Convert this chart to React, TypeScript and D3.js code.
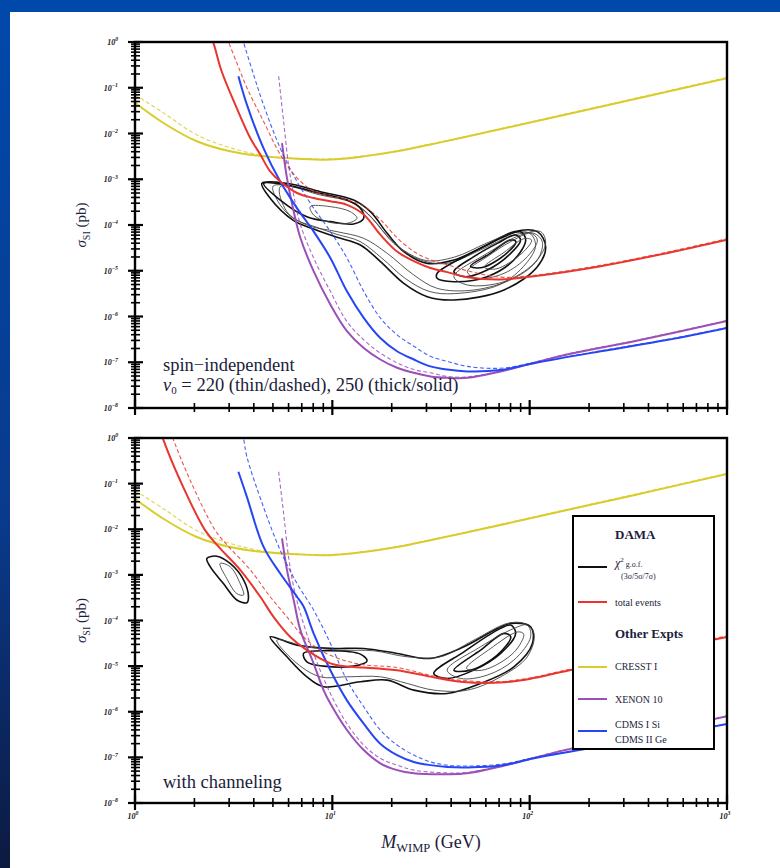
import React from "react";
import * as d3 from "d3";

// All points: [log10(M_WIMP / GeV), log10(sigma / pb)]
type P = [number, number];

const MASS_DECADES = [0, 1, 2, 3];
const SIGMA_DECADES = [0, -1, -2, -3, -4, -5, -6, -7, -8];

// ---------- CRESST I (same in both panels) ----------
const CRESST_250: P[] = [[0,-1.33],[0.144,-1.77],[0.313,-2.17],[0.482,-2.39],[0.651,-2.5],[0.821,-2.55],[0.99,-2.57],[1.159,-2.5],[1.328,-2.39],[1.497,-2.24],[1.65,-2.1],[2.19,-1.58],[2.5,-1.28],[3.0,-0.79]];
const CRESST_220: P[] = [[0,-1.15],[0.144,-1.55],[0.313,-2.03],[0.482,-2.31],[0.651,-2.48],[0.821,-2.54],[0.99,-2.555],[1.159,-2.49],[1.328,-2.38],[1.497,-2.23],[1.65,-2.09],[2.19,-1.565],[2.5,-1.265],[3.0,-0.775]];

// ---------- Top panel: spin-independent ----------
const TOT_SI_250: P[] = [[0.383,0.1],[0.397,-0.02],[0.439,-0.64],[0.508,-1.37],[0.584,-2.1],[0.635,-2.46],[0.685,-2.83],[0.736,-3.05],[0.821,-3.3],[0.905,-3.41],[0.99,-3.48],[1.074,-3.56],[1.159,-3.77],[1.243,-4.21],[1.328,-4.58],[1.413,-4.79],[1.497,-4.94],[1.582,-5.03],[1.684,-5.14],[1.853,-5.19],[2.022,-5.12],[2.36,-4.9],[2.7,-4.61],[3.0,-4.32]];
const TOT_SI_220: P[] = [[0.465,0.1],[0.474,0.0],[0.52,-0.5],[0.567,-1.0],[0.651,-1.73],[0.736,-2.46],[0.821,-2.97],[0.905,-3.26],[0.99,-3.37],[1.074,-3.45],[1.159,-3.59],[1.243,-3.88],[1.328,-4.28],[1.413,-4.58],[1.497,-4.76],[1.582,-4.87],[1.684,-5.0],[1.853,-5.14],[2.022,-5.1],[2.36,-4.88],[2.7,-4.59],[3.0,-4.3]];
const CDMS_SI_250: P[] = [[0.524,-0.75],[0.567,-1.37],[0.651,-2.32],[0.736,-3.05],[0.821,-3.63],[0.905,-4.14],[0.99,-4.72],[1.074,-5.45],[1.159,-6.03],[1.243,-6.47],[1.328,-6.76],[1.413,-6.94],[1.497,-7.09],[1.582,-7.16],[1.684,-7.2],[1.853,-7.17],[2.022,-7.02],[2.36,-6.76],[2.7,-6.51],[3.0,-6.25]];
const CDMS_SI_220: P[] = [[0.545,0.1],[0.55,0.0],[0.6,-0.7],[0.651,-1.37],[0.736,-2.32],[0.821,-3.05],[0.905,-3.63],[0.99,-4.14],[1.074,-4.72],[1.159,-5.45],[1.243,-6.03],[1.328,-6.4],[1.413,-6.65],[1.497,-6.87],[1.582,-6.98],[1.684,-7.09],[1.853,-7.13],[2.022,-7.01],[2.36,-6.75],[2.7,-6.5],[3.0,-6.24]];
const XENON_SI_250: P[] = [[0.745,-2.21],[0.77,-2.97],[0.804,-3.7],[0.838,-4.28],[0.905,-5.01],[0.99,-5.74],[1.074,-6.32],[1.159,-6.69],[1.243,-6.94],[1.328,-7.12],[1.413,-7.23],[1.497,-7.31],[1.582,-7.34],[1.684,-7.34],[1.853,-7.2],[2.19,-6.83],[2.53,-6.54],[3.0,-6.1]];
const XENON_SI_220: P[] = [[0.728,-0.75],[0.753,-1.73],[0.778,-2.68],[0.804,-3.34],[0.838,-3.99],[0.905,-4.72],[0.99,-5.45],[1.074,-6.11],[1.159,-6.51],[1.243,-6.8],[1.328,-7.01],[1.413,-7.16],[1.497,-7.23],[1.582,-7.31],[1.684,-7.32],[1.853,-7.19],[2.19,-6.82],[2.53,-6.53],[3.0,-6.09]];

// DAMA contours (top panel)
const DAMA_SI_OUTER_250: P[] = [[0.643,-3.089],[0.77,-3.089],[0.939,-3.272],[1.108,-3.454],[1.193,-3.709],[1.278,-4.182],[1.362,-4.583],[1.481,-4.838],[1.616,-4.765],[1.785,-4.437],[1.92,-4.146],[2.039,-4.146],[2.081,-4.474],[2.039,-4.911],[1.87,-5.421],[1.616,-5.639],[1.481,-5.567],[1.362,-5.275],[1.244,-4.801],[1.142,-4.437],[1.024,-4.269],[0.905,-4.087],[0.804,-3.905],[0.685,-3.417]];
const DAMA_SI_MID_250: P[] = [[0.7,-3.15],[0.8,-3.16],[0.95,-3.33],[1.1,-3.5],[1.18,-3.75],[1.27,-4.2],[1.36,-4.55],[1.48,-4.78],[1.62,-4.7],[1.78,-4.4],[1.91,-4.18],[2.0,-4.18],[2.03,-4.45],[1.98,-4.85],[1.85,-5.3],[1.62,-5.5],[1.49,-5.45],[1.37,-5.17],[1.25,-4.72],[1.14,-4.36],[1.02,-4.2],[0.9,-4.02],[0.8,-3.85],[0.72,-3.45]];
const DAMA_SI_OUTER_220: P[] = [[0.736,-3.162],[0.939,-3.344],[1.108,-3.526],[1.21,-3.891],[1.311,-4.401],[1.447,-4.765],[1.582,-4.838],[1.751,-4.546],[1.92,-4.219],[2.022,-4.182],[2.064,-4.364],[2.039,-4.765],[1.92,-5.166],[1.717,-5.421],[1.531,-5.384],[1.413,-5.093],[1.278,-4.619],[1.159,-4.291],[1.024,-4.146],[0.871,-4.0],[0.77,-3.709]];
const DAMA_SI_LOW_5: P[] = [[0.652,-3.089],[0.77,-3.126],[0.939,-3.308],[1.075,-3.454],[1.142,-3.636],[1.159,-3.854],[1.108,-3.978],[0.99,-3.927],[0.871,-3.818],[0.736,-3.454]];
const DAMA_SI_LOW_3: P[] = [[0.888,-3.599],[0.99,-3.599],[1.091,-3.709],[1.125,-3.854],[1.075,-3.963],[0.973,-3.927],[0.905,-3.781]];
const DAMA_SI_HIGH_3_250: P[] = [[1.616,-5.02],[1.717,-4.692],[1.836,-4.401],[1.929,-4.219],[1.954,-4.328],[1.904,-4.619],[1.785,-4.984],[1.667,-5.129]];
const DAMA_SI_HIGH_5_250: P[] = [[1.531,-5.057],[1.701,-4.619],[1.87,-4.255],[1.954,-4.146],[1.98,-4.328],[1.92,-4.765],[1.785,-5.129],[1.616,-5.239],[1.531,-5.166]];
const DAMA_SI_HIGH_1_250: P[] = [[1.7,-4.9],[1.8,-4.62],[1.9,-4.33],[1.93,-4.36],[1.88,-4.63],[1.76,-4.93]];
const DAMA_SI_HIGH_3_220: P[] = [[1.684,-5.02],[1.785,-4.692],[1.904,-4.364],[2.005,-4.182],[2.039,-4.328],[1.988,-4.692],[1.87,-5.057],[1.734,-5.166]];
const DAMA_SI_HIGH_5_220: P[] = [[1.616,-5.129],[1.785,-4.619],[1.954,-4.219],[2.056,-4.146],[2.081,-4.401],[2.022,-4.838],[1.87,-5.239],[1.684,-5.311]];
const DAMA_SI_HIGH_1_220: P[] = [[1.77,-4.92],[1.87,-4.6],[1.97,-4.3],[2.01,-4.33],[1.96,-4.62],[1.83,-4.96]];

// ---------- Bottom panel: with channeling ----------
const TOT_CH_250: P[] = [[0.13,0.15],[0.144,-0.04],[0.228,-0.92],[0.355,-2.02],[0.423,-2.38],[0.533,-2.89],[0.635,-3.48],[0.702,-3.92],[0.787,-4.36],[0.871,-4.65],[0.99,-4.94],[1.074,-5.01],[1.159,-5.03],[1.328,-5.09],[1.497,-5.23],[1.65,-5.34],[1.85,-5.36],[2.0,-5.28],[2.16,-5.13],[2.5,-4.8],[3.0,-4.36]];
const TOT_CH_220: P[] = [[0.18,0.15],[0.195,-0.04],[0.279,-0.92],[0.406,-2.02],[0.474,-2.38],[0.584,-2.89],[0.685,-3.48],[0.77,-3.92],[0.854,-4.36],[0.939,-4.65],[1.057,-4.87],[1.159,-4.97],[1.328,-5.03],[1.497,-5.2],[1.65,-5.31],[1.85,-5.34],[2.0,-5.26],[2.16,-5.11],[2.5,-4.78],[3.0,-4.34]];
const CDMS_CH_250: P[] = [[0.524,-0.74],[0.567,-1.29],[0.651,-2.38],[0.736,-2.97],[0.821,-3.48],[0.855,-3.7],[0.905,-4.28],[0.99,-5.09],[1.074,-5.75],[1.159,-6.26],[1.243,-6.7],[1.328,-6.95],[1.413,-7.1],[1.497,-7.17],[1.582,-7.21],[1.684,-7.22],[1.853,-7.18],[2.022,-7.02],[2.36,-6.76],[2.7,-6.51],[3.0,-6.27]];
const CDMS_CH_220: P[] = [[0.545,0.1],[0.55,0.0],[0.567,-0.41],[0.651,-1.51],[0.736,-2.46],[0.821,-3.19],[0.905,-3.77],[0.99,-4.5],[1.074,-5.31],[1.159,-5.89],[1.243,-6.4],[1.328,-6.73],[1.413,-6.95],[1.497,-7.1],[1.582,-7.17],[1.684,-7.19],[1.853,-7.15],[2.022,-7.01],[2.36,-6.75],[2.7,-6.5],[3.0,-6.26]];
const XENON_CH_250: P[] = [[0.745,-2.2],[0.77,-2.89],[0.804,-3.55],[0.838,-4.21],[0.905,-4.94],[0.956,-5.53],[0.99,-5.82],[1.074,-6.4],[1.159,-6.84],[1.243,-7.13],[1.328,-7.28],[1.413,-7.35],[1.582,-7.37],[1.684,-7.35],[1.853,-7.2],[2.19,-6.83],[2.53,-6.54],[3.0,-6.1]];
const XENON_CH_220: P[] = [[0.728,-0.74],[0.753,-1.65],[0.778,-2.6],[0.804,-3.26],[0.838,-3.84],[0.905,-4.72],[0.99,-5.6],[1.074,-6.26],[1.159,-6.73],[1.243,-7.02],[1.328,-7.17],[1.413,-7.28],[1.582,-7.34],[1.684,-7.33],[1.853,-7.19],[2.19,-6.82],[2.53,-6.53],[3.0,-6.09]];

const DAMA_CH_LOW_OUTER: P[] = [[0.364,-2.64],[0.415,-2.59],[0.482,-2.75],[0.55,-3.11],[0.575,-3.48],[0.567,-3.61],[0.516,-3.55],[0.448,-3.19],[0.381,-2.82]];
const DAMA_CH_LOW_INNER: P[] = [[0.431,-2.75],[0.482,-2.82],[0.533,-3.19],[0.55,-3.44],[0.516,-3.41],[0.465,-3.08]];
const DAMA_CH_OUTER_250: P[] = [[0.685,-4.357],[0.821,-4.539],[0.99,-4.612],[1.159,-4.612],[1.328,-4.722],[1.497,-4.832],[1.667,-4.576],[1.836,-4.174],[1.904,-4.064],[2.005,-4.137],[2.014,-4.503],[1.92,-5.015],[1.751,-5.38],[1.582,-5.599],[1.413,-5.526],[1.278,-5.307],[1.142,-5.344],[0.956,-5.453],[0.871,-5.234],[0.77,-4.795]];
const DAMA_CH_OUTER_220: P[] = [[0.719,-4.43],[0.871,-4.576],[1.041,-4.649],[1.21,-4.664],[1.379,-4.795],[1.548,-4.795],[1.717,-4.43],[1.887,-4.064],[1.971,-4.064],[2.022,-4.283],[1.988,-4.795],[1.853,-5.234],[1.684,-5.526],[1.514,-5.526],[1.379,-5.38],[1.244,-5.234],[1.074,-5.234],[0.939,-5.234],[0.821,-4.941]];
const DAMA_CH_MID_3: P[] = [[0.854,-4.722],[0.99,-4.664],[1.142,-4.737],[1.176,-4.883],[1.108,-5.0],[0.956,-5.0],[0.871,-4.905]];
const DAMA_CH_HIGH_5_250: P[] = [[1.514,-5.161],[1.667,-4.686],[1.836,-4.211],[1.904,-4.101],[1.929,-4.283],[1.853,-4.722],[1.717,-5.088],[1.582,-5.27]];
const DAMA_CH_HIGH_3_250: P[] = [[1.616,-5.088],[1.751,-4.649],[1.87,-4.283],[1.904,-4.357],[1.836,-4.759],[1.701,-5.088]];
const DAMA_CH_HIGH_5_220: P[] = [[1.582,-5.088],[1.751,-4.576],[1.92,-4.174],[1.988,-4.101],[2.005,-4.357],[1.92,-4.868],[1.785,-5.197],[1.65,-5.27]];
const DAMA_CH_HIGH_3_220: P[] = [[1.68,-5.05],[1.8,-4.62],[1.94,-4.25],[1.97,-4.3],[1.92,-4.7],[1.77,-5.08]];

// ---------- Styles ----------
const YELLOW = "#d9cc2c";
const RED = "#e8352e";
const BLUE = "#2646f4";
const PURPLE = "#9b4fb9";
const FONT = "'Liberation Serif', 'DejaVu Serif', serif";
const TXT = "#1c1c3c";

const X0 = 135, X1 = 727;
const xScale = d3.scaleLog().domain([1, 1000]).range([X0, X1]);

type Curve = { data: P[]; color: string; dashed: boolean };
type Contour = { data: P[]; thick: boolean };

const TOP_CURVES: Curve[] = [
  { data: CRESST_220, color: YELLOW, dashed: true },
  { data: CRESST_250, color: YELLOW, dashed: false },
  { data: XENON_SI_220, color: PURPLE, dashed: true },
  { data: XENON_SI_250, color: PURPLE, dashed: false },
  { data: CDMS_SI_220, color: BLUE, dashed: true },
  { data: CDMS_SI_250, color: BLUE, dashed: false },
  { data: TOT_SI_220, color: RED, dashed: true },
  { data: TOT_SI_250, color: RED, dashed: false },
];
const TOP_CONTOURS: Contour[] = [
  { data: DAMA_SI_OUTER_250, thick: true },
  { data: DAMA_SI_MID_250, thick: false },
  { data: DAMA_SI_OUTER_220, thick: false },
  { data: DAMA_SI_LOW_5, thick: true },
  { data: DAMA_SI_LOW_3, thick: false },
  { data: DAMA_SI_HIGH_5_250, thick: true },
  { data: DAMA_SI_HIGH_3_250, thick: true },
  { data: DAMA_SI_HIGH_1_250, thick: true },
  { data: DAMA_SI_HIGH_5_220, thick: false },
  { data: DAMA_SI_HIGH_3_220, thick: false },
  { data: DAMA_SI_HIGH_1_220, thick: false },
];
const BOT_CURVES: Curve[] = [
  { data: CRESST_220, color: YELLOW, dashed: true },
  { data: CRESST_250, color: YELLOW, dashed: false },
  { data: XENON_CH_220, color: PURPLE, dashed: true },
  { data: XENON_CH_250, color: PURPLE, dashed: false },
  { data: CDMS_CH_220, color: BLUE, dashed: true },
  { data: CDMS_CH_250, color: BLUE, dashed: false },
  { data: TOT_CH_220, color: RED, dashed: true },
  { data: TOT_CH_250, color: RED, dashed: false },
];
const BOT_CONTOURS: Contour[] = [
  { data: DAMA_CH_LOW_OUTER, thick: true },
  { data: DAMA_CH_LOW_INNER, thick: false },
  { data: DAMA_CH_OUTER_250, thick: true },
  { data: DAMA_CH_OUTER_220, thick: false },
  { data: DAMA_CH_MID_3, thick: true },
  { data: DAMA_CH_HIGH_5_250, thick: true },
  { data: DAMA_CH_HIGH_3_250, thick: true },
  { data: DAMA_CH_HIGH_5_220, thick: false },
  { data: DAMA_CH_HIGH_3_220, thick: false },
];

function Sup({ base, exp, x, y, size, anchor }: { base: string; exp: string; x: number; y: number; size: number; anchor: string }) {
  return (
    <text x={x} y={y} fontSize={size} fontFamily={FONT} fill="#222" textAnchor={anchor as any} fontStyle="italic" fontWeight="bold">
      {base}
      <tspan fontSize={size * 0.72} dy={-size * 0.45}>{exp}</tspan>
    </text>
  );
}

function Panel({ id, top, bottom, curves, contours, showXLabels }: { id: string; top: number; bottom: number; curves: Curve[]; contours: Contour[]; showXLabels: boolean }) {
  const y = d3.scaleLog().domain([1e-8, 1]).range([bottom, top]);
  const line = d3.line<P>().x(d => xScale(10 ** d[0])).y(d => y(10 ** d[1])).curve(d3.curveCatmullRom.alpha(0.5));
  const closed = d3.line<P>().x(d => xScale(10 ** d[0])).y(d => y(10 ** d[1])).curve(d3.curveCatmullRomClosed.alpha(0.5));

  const yMinor: number[] = [];
  SIGMA_DECADES.slice(1).forEach(e => { for (let k = 2; k <= 9; k++) yMinor.push(k * 10 ** e); });
  const xMinor: number[] = [];
  MASS_DECADES.slice(0, 3).forEach(e => { for (let k = 2; k <= 9; k++) xMinor.push(k * 10 ** e); });

  return (
    <g>
      <defs>
        <clipPath id={id}>
          <rect x={X0} y={top} width={X1 - X0} height={bottom - top} />
        </clipPath>
      </defs>
      <g clipPath={`url(#${id})`}>
        {contours.map((c, i) => (
          <path key={"c" + i} d={closed(c.data) || ""} fill="none" stroke={c.thick ? "#111" : "#444"} strokeWidth={c.thick ? 1.6 : 0.9} />
        ))}
        {curves.map((c, i) => (
          <path key={"l" + i} d={line(c.data) || ""} fill="none" stroke={c.color} strokeWidth={c.dashed ? 1.1 : 2} strokeDasharray={c.dashed ? "4,2.5" : undefined} opacity={c.dashed ? 0.85 : 1} />
        ))}
      </g>
      <rect x={X0} y={top} width={X1 - X0} height={bottom - top} fill="none" stroke="#000" strokeWidth={2.4} />
      {SIGMA_DECADES.map(e => (
        <line key={"ym" + e} x1={X0 - 7} x2={X0 + 8} y1={y(10 ** e)} y2={y(10 ** e)} stroke="#000" strokeWidth={2.2} />
      ))}
      {yMinor.map((v, i) => (
        <line key={"yn" + i} x1={X0 - 4} x2={X0 + 5} y1={y(v)} y2={y(v)} stroke="#000" strokeWidth={1.6} />
      ))}
      {SIGMA_DECADES.map(e => (
        <Sup key={"yl" + e} base="10" exp={e === 0 ? "0" : "−" + Math.abs(e)} x={X0 - 17} y={y(10 ** e) + 3} size={8} anchor="end" />
      ))}
      {MASS_DECADES.map(e => (
        <line key={"xm" + e} x1={xScale(10 ** e)} x2={xScale(10 ** e)} y1={bottom - 8} y2={bottom + 7} stroke="#000" strokeWidth={2.2} />
      ))}
      {xMinor.map((v, i) => (
        <line key={"xn" + i} x1={xScale(v)} x2={xScale(v)} y1={bottom - 5} y2={bottom + 4} stroke="#000" strokeWidth={1.6} />
      ))}
      {showXLabels && MASS_DECADES.map(e => (
        <Sup key={"xl" + e} base="10" exp={String(e)} x={xScale(10 ** e) - 2} y={bottom + 16} size={8} anchor="middle" />
      ))}
      <text transform={`translate(86,${(top + bottom) / 2}) rotate(-90)`} textAnchor="middle" fontFamily={FONT} fontSize={15} fill={TXT}>
        <tspan fontStyle="italic">σ</tspan>
        <tspan fontSize={10} dy={4}>SI</tspan>
        <tspan dy={-4}> (pb)</tspan>
      </text>
    </g>
  );
}

function Legend() {
  const lx1 = 578, lx2 = 607, tx = 615;
  const items: { yy: number; color: string }[] = [
    { yy: 567, color: "#111" },
    { yy: 602, color: RED },
    { yy: 667, color: YELLOW },
    { yy: 699, color: PURPLE },
    { yy: 731, color: BLUE },
  ];
  return (
    <g fontFamily={FONT} fill={TXT}>
      <rect x={573} y={516} width={141} height={233} fill="#fff" stroke="#000" strokeWidth={2} />
      {items.map((it, i) => (
        <line key={i} x1={lx1} x2={lx2} y1={it.yy} y2={it.yy} stroke={it.color} strokeWidth={2} />
      ))}
      <text x={tx} y={539} fontSize={13} fontWeight="bold">DAMA</text>
      <text x={tx} y={567} fontSize={12}>
        <tspan fontStyle="italic">χ</tspan><tspan fontSize={7} dy={-5}>2</tspan><tspan fontSize={8} dy={5}> g.o.f.</tspan>
      </text>
      <text x={621} y={579} fontSize={8}>(3σ/5σ/7σ)</text>
      <text x={tx} y={606} fontSize={10}>total events</text>
      <text x={tx} y={638} fontSize={13} fontWeight="bold">Other Expts</text>
      <text x={tx} y={670} fontSize={10}>CRESST I</text>
      <text x={tx} y={703} fontSize={10}>XENON 10</text>
      <text x={tx} y={728} fontSize={10}>CDMS I Si</text>
      <text x={tx} y={743} fontSize={10}>CDMS II Ge</text>
    </g>
  );
}

export default function App() {
  return (
    <div style={{ position: "absolute", left: 0, top: 0, width: 780, height: 868, overflow: "hidden" }}>
      <svg width={780} height={868} viewBox="0 0 780 868">
        <defs>
          <linearGradient id="leftbar" x1="0" y1="0" x2="0" y2="1">
            <stop offset="0" stopColor="#0049ab" />
            <stop offset="0.6" stopColor="#0a3a8c" />
            <stop offset="1" stopColor="#0c1a40" />
          </linearGradient>
        </defs>
        <rect x={0} y={0} width={780} height={868} fill="url(#leftbar)" />
        <rect x={0} y={0} width={780} height={12} fill="#0049ab" />
        <rect x={10} y={12} width={770} height={856} fill="#fff" />
        <Panel id="clipTop" top={42} bottom={408} curves={TOP_CURVES} contours={TOP_CONTOURS} showXLabels={false} />
        <Panel id="clipBot" top={438} bottom={803} curves={BOT_CURVES} contours={BOT_CONTOURS} showXLabels={true} />
        <g fontFamily={FONT} fill={TXT}>
          <text x={163} y={371} fontSize={18.5}>spin−independent</text>
          <text x={163} y={391} fontSize={18.5}>
            <tspan fontStyle="italic">v</tspan><tspan fontSize={11} dy={3}>0</tspan><tspan dy={-3}> = 220 (thin/dashed), 250 (thick/solid)</tspan>
          </text>
          <text x={163} y={788} fontSize={18.5}>with channeling</text>
          <text x={431} y={848} fontSize={18} textAnchor="middle">
            <tspan fontStyle="italic">M</tspan><tspan fontSize={12.5} dy={4}>WIMP</tspan><tspan dy={-4}> (GeV)</tspan>
          </text>
        </g>
        <Legend />
      </svg>
    </div>
  );
}
